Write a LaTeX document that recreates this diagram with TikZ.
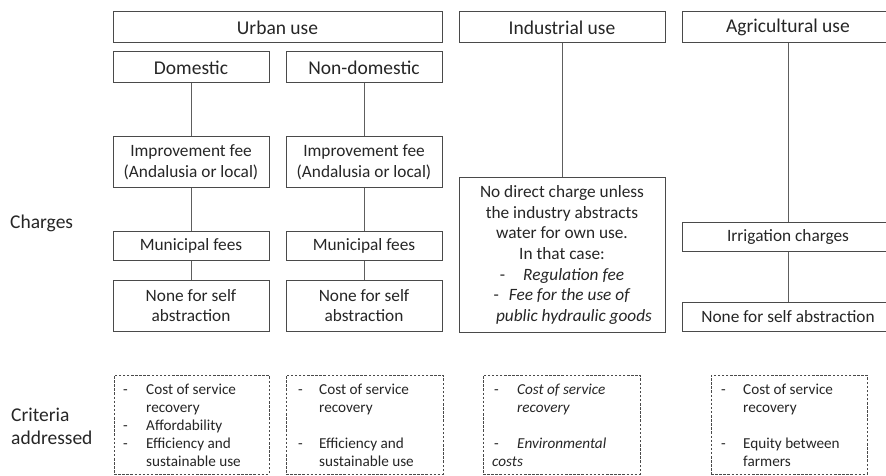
\documentclass[tikz,border=0pt]{standalone}
\usepackage{fontspec}
\setmainfont{Carlito}
\definecolor{txt}{HTML}{262626}
\definecolor{linec}{HTML}{4A4A4A}
\definecolor{connc}{HTML}{5E5E5E}
\begin{document}
\begin{tikzpicture}[x=1pt,y=-1pt,
  box/.style={draw=linec, line width=1pt, inner sep=0pt, align=center, text=txt, font=\fontsize{17.3}{20.7}\selectfont},
  head/.style={box, font=\fontsize{19.5}{23}\selectfont},
  crit/.style={draw=linec, line width=0.9pt, dash pattern=on 2.5pt off 1.6pt, inner sep=0pt},
  item/.style={anchor=base west, inner sep=0pt, text=txt, font=\fontsize{15.2}{18}\selectfont},
  conn/.style={draw=connc, line width=1pt},
  side/.style={anchor=base west, inner sep=0pt, text=txt, font=\fontsize{19.5}{23}\selectfont}]
\clip (0,0) rectangle (886,476);
\fill[white] (0,0) rectangle (886,476);

% headers
\node[head, minimum width=329pt, minimum height=31pt] (urban) at (277.5,27.5) {Urban use};
\node[head, minimum width=206pt, minimum height=31pt] (ind) at (562,27.5) {Industrial use};
\node[head, minimum width=212pt, minimum height=31pt] (agr) at (788,27.5) {Agricultural use};
\node[head, minimum width=156pt, minimum height=31pt] (dom) at (191,67.5) {Domestic};
\node[head, minimum width=156pt, minimum height=31pt] (ndom) at (364,67.5) {Non-domestic};

% urban columns
\node[box, minimum width=156pt, minimum height=50pt] (imp1) at (191,162) {Improvement fee\\(Andalusia or local)};
\node[box, minimum width=156pt, minimum height=50pt] (imp2) at (364,162) {Improvement fee\\(Andalusia or local)};
\node[box, minimum width=156pt, minimum height=29pt] (mun1) at (191,245.5) {Municipal fees};
\node[box, minimum width=156pt, minimum height=29pt] (mun2) at (364,245.5) {Municipal fees};
\node[box, minimum width=156pt, minimum height=51pt] (none1) at (191,305.5) {None for self\\abstraction};
\node[box, minimum width=156pt, minimum height=51pt] (none2) at (364,305.5) {None for self\\abstraction};

% industrial
\node[box, minimum width=206pt, minimum height=155pt] (indbox) at (562,255)
  {No direct charge unless\\the industry abstracts\\water for own use.\\In that case:\\
   -\hspace{18pt}\textit{Regulation fee}\\
   -\hspace{10pt}\textit{Fee for the use of}\\
   \hspace*{24pt}\textit{public hydraulic goods}};

% agricultural
\node[box, minimum width=212pt, minimum height=29pt] (irr) at (788,236.5) {Irrigation charges};
\node[box, minimum width=212pt, minimum height=29pt] (none3) at (788,316.5) {None for self abstraction};

% connectors
\draw[conn] (dom.south) -- (imp1.north);
\draw[conn] (imp1.south) -- (mun1.north);
\draw[conn] (mun1.south) -- (none1.north);
\draw[conn] (ndom.south) -- (imp2.north);
\draw[conn] (imp2.south) -- (mun2.north);
\draw[conn] (mun2.south) -- (none2.north);
\draw[conn] (ind.south) -- (indbox.north);
\draw[conn] (agr.south) -- (irr.north);
\draw[conn] (irr.south) -- (none3.north);

% side labels
\node[side] (charges) at (10,228) {Charges};
\node[side] (crit1) at (11,421) {Criteria};
\node[side] (crit2) at (11,444) {addressed};

% criteria boxes
\node[crit, minimum width=155pt, minimum height=99pt] (cb1) at (191.5,424.5) {};
\node[crit, minimum width=157pt, minimum height=99pt] (cb2) at (364.5,424.5) {};
\node[crit, minimum width=157pt, minimum height=99pt] (cb3) at (561.5,424.5) {};
\node[crit, minimum width=156pt, minimum height=99pt] (cb4) at (789,424.5) {};

% box 1
\node[item] (d1a) at (123,394) {-};
\node[item] (t1a) at (146,394) {Cost of service};
\node[item] (t1b) at (146,412) {recovery};
\node[item] (d1c) at (123,430) {-};
\node[item] (t1c) at (146,430) {Affordability};
\node[item] (d1d) at (123,448) {-};
\node[item] (t1d) at (146,448) {Efficiency and};
\node[item] (t1e) at (146,466) {sustainable use};

% box 2
\node[item] (d2a) at (298,394) {-};
\node[item] (t2a) at (319,394) {Cost of service};
\node[item] (t2b) at (319,412) {recovery};
\node[item] (d2d) at (298,448) {-};
\node[item] (t2d) at (319,448) {Efficiency and};
\node[item] (t2e) at (319,466) {sustainable use};

% box 3
\node[item] (d3a) at (494,394) {-};
\node[item] (t3a) at (517,394) {\itshape Cost of service};
\node[item] (t3b) at (517,412) {\itshape recovery};
\node[item] (d3d) at (494,448) {-};
\node[item] (t3d) at (517,448) {\itshape Environmental};
\node[item] (t3e) at (492,466) {\itshape costs};

% box 4
\node[item] (d4a) at (721,394) {-};
\node[item] (t4a) at (743,394) {Cost of service};
\node[item] (t4b) at (743,412) {recovery};
\node[item] (d4d) at (721,448) {-};
\node[item] (t4d) at (743,448) {Equity between};
\node[item] (t4e) at (743,466) {farmers};
\end{tikzpicture}
\end{document}
